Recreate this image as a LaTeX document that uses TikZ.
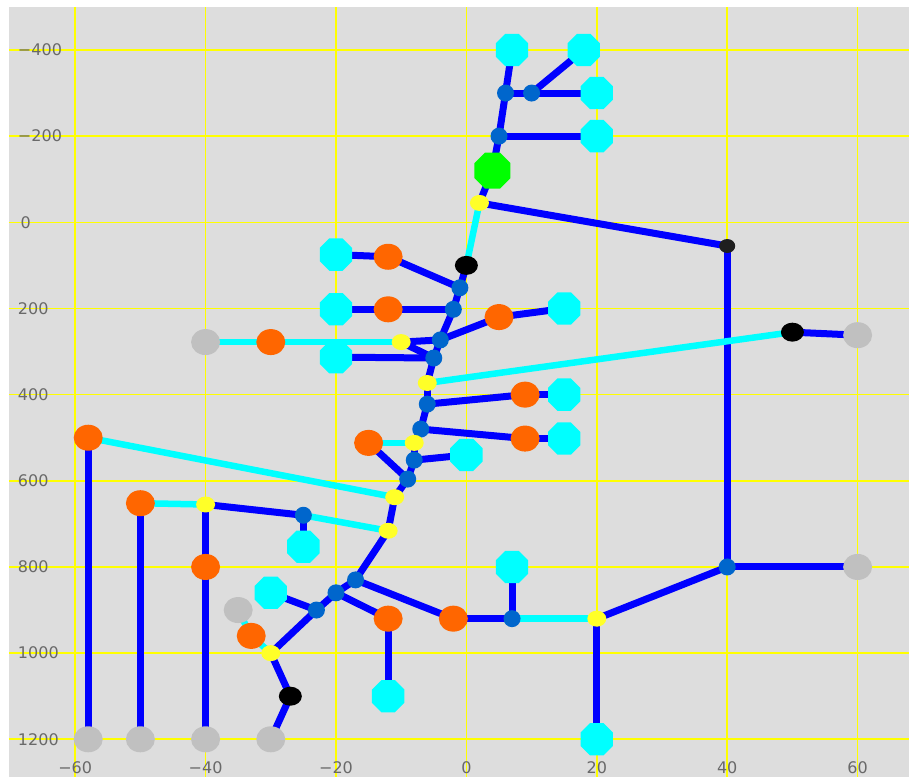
\documentclass[tikz,border=0pt]{standalone}
\usepackage{fontspec}
\newfontfamily\axisfont{DejaVu Sans}
\usetikzlibrary{shapes.geometric,backgrounds}
\definecolor{panel}{RGB}{221,221,221}
\definecolor{gridcol}{RGB}{255,255,0}
\definecolor{feeder}{RGB}{0,0,255}
\definecolor{tieline}{RGB}{0,255,255}
\definecolor{busblue}{RGB}{0,102,204}
\definecolor{loadorange}{RGB}{255,102,0}
\definecolor{opengray}{RGB}{192,192,192}
\definecolor{srcgreen}{RGB}{0,255,0}
\definecolor{swyellow}{RGB}{255,255,40}
\definecolor{ticktext}{RGB}{105,105,105}
\pgfdeclarelayer{edges}
\pgfsetlayers{background,edges,main}
\tikzset{
  axlab/.style={font=\axisfont\fontsize{16}{16}\selectfont,text=ticktext,inner sep=0pt},
  gridln/.style={gridcol,line width=1.6pt},
  fd/.style={feeder,line width=7pt},
  tl/.style={tieline,line width=6.5pt},
  cust/.style={regular polygon,regular polygon sides=8,fill=tieline,minimum size=35pt,inner sep=0pt},
  ld/.style={ellipse,fill=loadorange,minimum width=29pt,minimum height=26pt,inner sep=0pt},
  opn/.style={ellipse,fill=opengray,minimum width=29pt,minimum height=26pt,inner sep=0pt},
  bus/.style={circle,fill=busblue,minimum size=17pt,inner sep=0pt},
  sw/.style={ellipse,fill=swyellow,minimum width=19pt,minimum height=16pt,inner sep=0pt},
  brk/.style={ellipse,fill=black,minimum width=23pt,minimum height=19pt,inner sep=0pt},
  src/.style={regular polygon,regular polygon sides=8,fill=srcgreen,minimum size=39pt,inner sep=0pt},
}
\begin{document}
\begin{tikzpicture}[x=6.52pt,y={(0pt,-0.4308pt)}]
  \useasboundingbox (-71.53,-516) rectangle (67.88,1287.6);
  \begin{pgfonlayer}{background}
    \fill[panel] (-70.15,-499.8) rectangle (67.88,1287.6);
    \draw[gridln] (-60,-499.8) -- (-60,1287.6);
    \draw[gridln] (-40,-499.8) -- (-40,1287.6);
    \draw[gridln] (-20,-499.8) -- (-20,1287.6);
    \draw[gridln] (0,-499.8) -- (0,1287.6);
    \draw[gridln] (20,-499.8) -- (20,1287.6);
    \draw[gridln] (40,-499.8) -- (40,1287.6);
    \draw[gridln] (60,-499.8) -- (60,1287.6);
    \draw[gridln] (-70.15,-400) -- (67.88,-400);
    \draw[gridln] (-70.15,-200) -- (67.88,-200);
    \draw[gridln] (-70.15,0) -- (67.88,0);
    \draw[gridln] (-70.15,200) -- (67.88,200);
    \draw[gridln] (-70.15,400) -- (67.88,400);
    \draw[gridln] (-70.15,600) -- (67.88,600);
    \draw[gridln] (-70.15,800) -- (67.88,800);
    \draw[gridln] (-70.15,1000) -- (67.88,1000);
    \draw[gridln] (-70.15,1200) -- (67.88,1200);
  \end{pgfonlayer}
  \node[axlab,anchor=west] (ly1) at (-68.8,-400) {−400};
  \node[axlab,anchor=west] (ly2) at (-68.8,-200) {−200};
  \node[axlab,anchor=west] (ly3) at (-68.4,0) {0};
  \node[axlab,anchor=west] (ly4) at (-68.8,200) {200};
  \node[axlab,anchor=west] (ly5) at (-68.8,400) {400};
  \node[axlab,anchor=west] (ly6) at (-68.8,600) {600};
  \node[axlab,anchor=west] (ly7) at (-68.8,800) {800};
  \node[axlab,anchor=west] (ly8) at (-68.8,1000) {1000};
  \node[axlab,anchor=west] (ly9) at (-68.8,1200) {1200};
  \node[axlab] (lx1) at (-60,1265) {−60};
  \node[axlab] (lx2) at (-40,1265) {−40};
  \node[axlab] (lx3) at (-20,1265) {−20};
  \node[axlab] (lx4) at (0,1265) {0};
  \node[axlab] (lx5) at (20,1265) {20};
  \node[axlab] (lx6) at (40,1265) {40};
  \node[axlab] (lx7) at (60,1265) {60};
  % customers
  \node[cust] (c1) at (7,-400) {};
  \node[cust] (c2) at (18,-400) {};
  \node[cust] (c3) at (20,-300) {};
  \node[cust] (c4) at (20,-200) {};
  \node[cust] (c5) at (-20,75) {};
  \node[cust] (c6) at (-20,202) {};
  \node[cust] (c7) at (15,200) {};
  \node[cust] (c8) at (-20,313) {};
  \node[cust] (c9) at (15,400) {};
  \node[cust] (c10) at (15,502) {};
  \node[cust] (c11) at (0,540) {};
  \node[cust] (c12) at (-25,753) {};
  \node[cust] (c13) at (-30,860) {};
  \node[cust] (c14) at (-12,1100) {};
  \node[cust] (c15) at (7,800) {};
  \node[cust] (c16) at (20,1200) {};
  % loads
  \node[ld] (o1) at (-12,80) {};
  \node[ld] (o2) at (-12,202) {};
  \node[ld] (o3) at (5,220) {};
  \node[ld] (o4) at (-30,278) {};
  \node[ld] (o5) at (9,400) {};
  \node[ld] (o6) at (9,502) {};
  \node[ld] (o7) at (-15,512) {};
  \node[ld] (o8) at (-58,500) {};
  \node[ld] (o9) at (-50,652) {};
  \node[ld] (o10) at (-40,800) {};
  \node[ld] (o11) at (-33,960) {};
  \node[ld] (o12) at (-12,920) {};
  \node[ld] (o13) at (-2,920) {};
  % open ends
  \node[opn] (g1) at (-40,278) {};
  \node[opn] (g2) at (60,262) {};
  \node[opn] (g3) at (-58,1200) {};
  \node[opn] (g4) at (-50,1200) {};
  \node[opn] (g5) at (-40,1200) {};
  \node[opn] (g6) at (-30,1200) {};
  \node[opn] (g7) at (-35,900) {};
  \node[opn] (g8) at (60,800) {};
  % buses
  \node[bus] (d1) at (6,-300) {};
  \node[bus] (d2) at (10,-300) {};
  \node[bus] (d3) at (5,-200) {};
  \node[bus] (d4) at (-1,152) {};
  \node[bus] (d5) at (-2,202) {};
  \node[bus] (d6) at (-4,273) {};
  \node[bus] (d7) at (-5,315) {};
  \node[bus] (d8) at (-6,422) {};
  \node[bus] (d9) at (-7,480) {};
  \node[bus] (d10) at (-8,552) {};
  \node[bus] (d11) at (-9,596) {};
  \node[bus] (d12) at (-25,680) {};
  \node[bus] (d13) at (-17,830) {};
  \node[bus] (d14) at (-20,860) {};
  \node[bus] (d15) at (-23,900) {};
  \node[bus] (d16) at (7,920) {};
  \node[bus] (d17) at (40,800) {};
  % switches
  \node[sw] (y1) at (2,-45) {};
  \node[sw] (y2) at (-10,278) {};
  \node[sw] (y3) at (-6,373) {};
  \node[sw] (y4) at (-8,512) {};
  \node[sw] (y5) at (-11,638) {};
  \node[sw] (y6) at (-12,716) {};
  \node[sw] (y7) at (-40,655) {};
  \node[sw] (y8) at (-30,1000) {};
  \node[sw] (y9) at (20,920) {};
  % breakers and source
  \node[brk] (k1) at (0,100) {};
  \node[brk,minimum width=16pt,minimum height=14pt,fill=black!88] (k2) at (40,55) {};
  \node[brk] (k3) at (50,255) {};
  \node[brk] (k4) at (-27,1100) {};
  \node[src] (s1) at (4,-120) {};
  \begin{pgfonlayer}{edges}
    \draw[fd] (c1.center) -- (d1.center);
    \draw[fd] (d1.center) -- (d2.center);
    \draw[fd] (d2.center) -- (c2.center);
    \draw[fd] (d2.center) -- (c3.center);
    \draw[fd] (d1.center) -- (d3.center);
    \draw[fd] (d3.center) -- (c4.center);
    \draw[fd] (d3.center) -- (s1.center);
    \draw[fd] (s1.center) -- (y1.center);
    \draw[fd] (y1.center) -- (k2.center);
    \draw[fd] (k2.center) -- (d17.center);
    \draw[fd] (d17.center) -- (g8.center);
    \draw[fd] (d17.center) -- (y9.center);
    \draw[fd] (y9.center) -- (c16.center);
    \draw[fd] (k1.center) -- (d4.center);
    \draw[fd] (o1.center) -- (c5.center);
    \draw[fd] (o1.center) -- (d4.center);
    \draw[fd] (d4.center) -- (d5.center);
    \draw[fd] (d5.center) -- (o2.center);
    \draw[fd] (o2.center) -- (c6.center);
    \draw[fd] (d5.center) -- (d6.center);
    \draw[fd] (d6.center) -- (o3.center);
    \draw[fd] (o3.center) -- (c7.center);
    \draw[fd] (y2.center) -- (d6.center);
    \draw[fd] (y2.center) -- (d7.center);
    \draw[fd] (d6.center) -- (d7.center);
    \draw[fd] (d7.center) -- (c8.center);
    \draw[fd] (d7.center) -- (y3.center);
    \draw[fd] (y3.center) -- (d8.center);
    \draw[fd] (d8.center) -- (o5.center);
    \draw[fd] (o5.center) -- (c9.center);
    \draw[fd] (d8.center) -- (d9.center);
    \draw[fd] (d9.center) -- (o6.center);
    \draw[fd] (o6.center) -- (c10.center);
    \draw[fd] (d9.center) -- (y4.center);
    \draw[fd] (y4.center) -- (d10.center);
    \draw[fd] (d10.center) -- (c11.center);
    \draw[fd] (d10.center) -- (d11.center);
    \draw[fd] (o7.center) -- (d11.center);
    \draw[fd] (d11.center) -- (y5.center);
    \draw[fd] (y5.center) -- (y6.center);
    \draw[fd] (y6.center) -- (d13.center);
    \draw[fd] (d13.center) -- (d14.center);
    \draw[fd] (d14.center) -- (d15.center);
    \draw[fd] (d15.center) -- (y8.center);
    \draw[fd] (d15.center) -- (c13.center);
    \draw[fd] (d14.center) -- (o12.center);
    \draw[fd] (o12.center) -- (c14.center);
    \draw[fd] (d13.center) -- (o13.center);
    \draw[fd] (o13.center) -- (d16.center);
    \draw[fd] (d16.center) -- (c15.center);
    \draw[fd] (y7.center) -- (d12.center);
    \draw[fd] (d12.center) -- (c12.center);
    \draw[fd] (y7.center) -- (o10.center);
    \draw[fd] (o10.center) -- (g5.center);
    \draw[fd] (o8.center) -- (g3.center);
    \draw[fd] (o9.center) -- (g4.center);
    \draw[fd] (y8.center) -- (k4.center);
    \draw[fd] (k4.center) -- (g6.center);
    \draw[fd] (k3.center) -- (g2.center);
    \draw[tl] (y1.center) -- (k1.center);
    \draw[tl] (y2.center) -- (o4.center);
    \draw[tl] (o4.center) -- (g1.center);
    \draw[tl] (y3.center) -- (k3.center);
    \draw[tl] (y4.center) -- (o7.center);
    \draw[tl] (y5.center) -- (o8.center);
    \draw[tl] (o9.center) -- (y7.center);
    \draw[tl] (d12.center) -- (y6.center);
    \draw[tl] (g7.center) -- (o11.center);
    \draw[tl] (o11.center) -- (y8.center);
    \draw[tl] (d16.center) -- (y9.center);
  \end{pgfonlayer}
\end{tikzpicture}
\end{document}
